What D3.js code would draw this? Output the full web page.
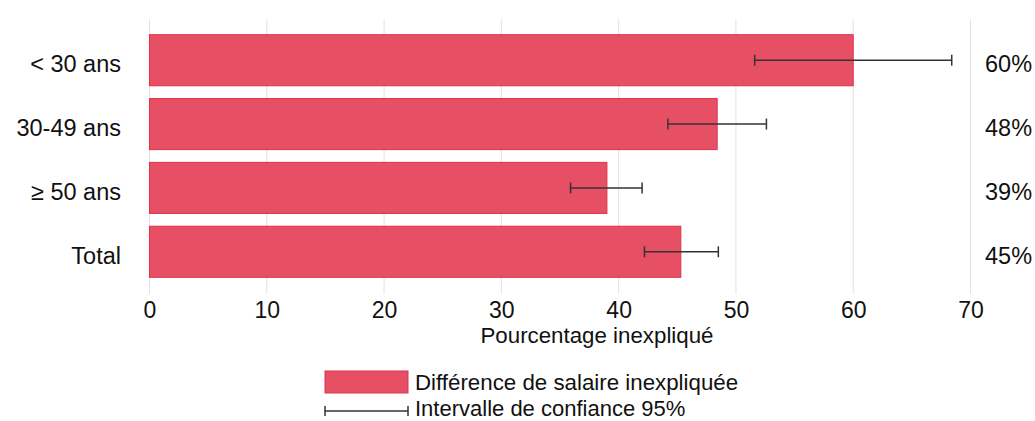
<!DOCTYPE html>
<html>
<head>
<meta charset="utf-8">
<script src="https://cdn.jsdelivr.net/npm/d3@7"></script>
<style>
  body { margin: 0; background: #fff; }
  svg { display: block; font-family: "Liberation Sans", Arial, sans-serif; }
</style>
</head>
<body>
<div id="chart"></div>
<script>
// Unexplained pay gap by age group

const categories = ["< 30 ans", "30-49 ans", "≥ 50 ans", "Total"];
const values = [60.0, 48.4, 39.0, 45.3];
const ciLow = [51.6, 44.2, 35.9, 42.2];
const ciHigh = [68.4, 52.6, 42.0, 48.5];
const valueLabels = ["60%", "48%", "39%", "45%"];
const xTicks = [0, 10, 20, 30, 40, 50, 60, 70];

const data = categories.map((c, i) => ({
  cat: c, value: values[i], lo: ciLow[i], hi: ciHigh[i], label: valueLabels[i]
}));

const width = 1035, height = 421;
const barColor = "#e75064";
const barStroke = "#e0304a";

const svg = d3.select("#chart").append("svg")
  .attr("width", width)
  .attr("height", height);

const x = d3.scaleLinear().domain([0, 70]).range([149.5, 970.5]);
const y = d3.scaleBand().domain(categories).range([20, 292]).paddingInner(0.2).paddingOuter(0.23);

// Gridlines
svg.append("g")
  .selectAll("line")
  .data(xTicks)
  .join("line")
  .attr("x1", d => x(d)).attr("x2", d => x(d))
  .attr("y1", 19).attr("y2", 294)
  .attr("stroke", "#e3e3e3")
  .attr("stroke-width", 1);

// Bars
svg.append("g")
  .selectAll("rect")
  .data(data)
  .join("rect")
  .attr("x", x(0))
  .attr("y", d => y(d.cat))
  .attr("width", d => x(d.value) - x(0))
  .attr("height", y.bandwidth())
  .attr("fill", barColor)
  .attr("stroke", barStroke)
  .attr("stroke-width", 1);

// Error bars
const err = svg.append("g")
  .attr("stroke", "#333")
  .attr("stroke-width", 1.5);
data.forEach(d => {
  const cy = y(d.cat) + y.bandwidth() / 2;
  err.append("line").attr("x1", x(d.lo)).attr("x2", x(d.hi)).attr("y1", cy).attr("y2", cy);
  err.append("line").attr("x1", x(d.lo)).attr("x2", x(d.lo)).attr("y1", cy - 5.5).attr("y2", cy + 5.5);
  err.append("line").attr("x1", x(d.hi)).attr("x2", x(d.hi)).attr("y1", cy - 5.5).attr("y2", cy + 5.5);
});

// Category labels
svg.append("g")
  .selectAll("text")
  .data(data)
  .join("text")
  .attr("x", 121)
  .attr("y", d => y(d.cat) + y.bandwidth() / 2 + 4)
  .attr("dy", "0.35em")
  .attr("text-anchor", "end")
  .attr("font-size", "23.5px")
  .attr("fill", "#111")
  .text(d => d.cat);

// Value labels
svg.append("g")
  .selectAll("text")
  .data(data)
  .join("text")
  .attr("x", 985)
  .attr("y", d => y(d.cat) + y.bandwidth() / 2 + 4)
  .attr("dy", "0.35em")
  .attr("font-size", "23.5px")
  .attr("fill", "#111")
  .text(d => d.label);

// X axis
const xAxis = svg.append("g")
  .attr("transform", "translate(0,294)")
  .call(d3.axisBottom(x).tickValues(xTicks).tickSize(0).tickPadding(8));
xAxis.select(".domain").remove();
xAxis.selectAll("text")
  .attr("font-size", "23px")
  .attr("font-family", "Liberation Sans, Arial, sans-serif")
  .attr("fill", "#111");

svg.append("text")
  .attr("x", 597)
  .attr("y", 343)
  .attr("text-anchor", "middle")
  .attr("font-size", "22.3px")
  .attr("fill", "#111")
  .text("Pourcentage inexpliqué");

// Legend
const lg = svg.append("g");
lg.append("rect")
  .attr("x", 325).attr("y", 371)
  .attr("width", 83).attr("height", 22)
  .attr("fill", barColor)
  .attr("stroke", barStroke);
lg.append("text")
  .attr("x", 415).attr("y", 390)
  .attr("font-size", "22.3px")
  .attr("fill", "#111")
  .text("Différence de salaire inexpliquée");
const ly = 411;
lg.append("line").attr("x1", 325).attr("x2", 408).attr("y1", ly).attr("y2", ly)
  .attr("stroke", "#333").attr("stroke-width", 1.5);
lg.append("line").attr("x1", 325).attr("x2", 325).attr("y1", ly - 5).attr("y2", ly + 5)
  .attr("stroke", "#333").attr("stroke-width", 1.5);
lg.append("line").attr("x1", 408).attr("x2", 408).attr("y1", ly - 5).attr("y2", ly + 5)
  .attr("stroke", "#333").attr("stroke-width", 1.5);
lg.append("text")
  .attr("x", 415).attr("y", 416)
  .attr("font-size", "22px")
  .attr("fill", "#111")
  .text("Intervalle de confiance 95%");
</script>
</body>
</html>
